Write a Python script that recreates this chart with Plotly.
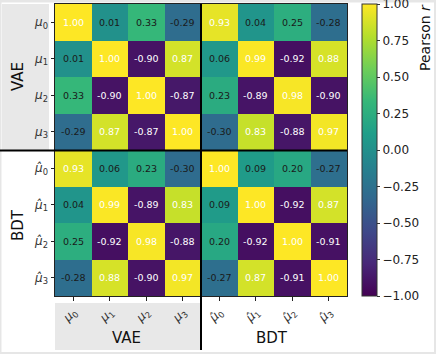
import plotly.graph_objects as go

# ---- data -------------------------------------------------------------
labels = [
    "<i>μ</i><sub>0</sub>", "<i>μ</i><sub>1</sub>",
    "<i>μ</i><sub>2</sub>", "<i>μ</i><sub>3</sub>",
    "<i>μ̂</i><sub>0</sub>", "<i>μ̂</i><sub>1</sub>",
    "<i>μ̂</i><sub>2</sub>", "<i>μ̂</i><sub>3</sub>",
]
corr = [
    [1.00, 0.01, 0.33, -0.29, 0.93, 0.04, 0.25, -0.28],
    [0.01, 1.00, -0.90, 0.87, 0.06, 0.99, -0.92, 0.88],
    [0.33, -0.90, 1.00, -0.87, 0.23, -0.89, 0.98, -0.90],
    [-0.29, 0.87, -0.87, 1.00, -0.30, 0.83, -0.88, 0.97],
    [0.93, 0.06, 0.23, -0.30, 1.00, 0.09, 0.20, -0.27],
    [0.04, 0.99, -0.89, 0.83, 0.09, 1.00, -0.92, 0.87],
    [0.25, -0.92, 0.98, -0.88, 0.20, -0.92, 1.00, -0.91],
    [-0.28, 0.88, -0.90, 0.97, -0.27, 0.87, -0.91, 1.00],
]
cbar_ticks = [-1.0, -0.75, -0.5, -0.25, 0.0, 0.25, 0.5, 0.75, 1.0]

# ---- geometry (pixels of the 436x354 page) -----------------------------
W, H = 436, 354
def px(x):
    return x / W
def py(y):
    return 1 - y / H

FONT = "DejaVu Sans"
PANEL = "#e8e8e8"

idx = list(range(len(labels)))

fig = go.Figure()
fig.add_trace(go.Heatmap(
    z=corr, x=idx, y=idx,
    colorscale="Viridis", zmin=-1, zmax=1,
    hoverinfo="skip",
    colorbar=dict(
        x=px(362), xanchor="left", xpad=0, ypad=0,
        y=py(150), yanchor="middle",
        lenmode="pixels", len=292, thickness=15,
        outlinewidth=1, outlinecolor="#333333",
        tickmode="array", tickvals=cbar_ticks,
        ticktext=[f"{t:.2f}".replace("-", "\u2212") for t in cbar_ticks],
        ticks="outside", ticklen=3, tickcolor="#333333",
        ticklabeloverflow="allow",
        tickfont=dict(family=FONT, size=12, color="#222222"),
    ),
))

# cell values
annotations = []
for i, row in enumerate(corr):
    for j, v in enumerate(row):
        annotations.append(dict(
            x=j, y=i, xref="x", yref="y", showarrow=False,
            text=f"{v:.2f}",
            font=dict(family=FONT, size=9.5,
                      color="white" if abs(v) > 0.5 else "#1a1a1a"),
        ))

# group labels
for text, x, y, ang in [
    ("VAE", 18, 77, -90), ("BDT", 18, 225, -90),
    ("VAE", 127, 338, 0), ("BDT", 272, 338, 0),
]:
    annotations.append(dict(
        x=px(x), y=py(y), xref="paper", yref="paper", showarrow=False,
        text=text, textangle=ang, xanchor="center", yanchor="middle",
        font=dict(family=FONT, size=15, color="#111111"),
    ))

annotations.append(dict(
    x=px(425), y=py(38), xref="paper", yref="paper", showarrow=False,
    text="Pearson <i>r</i>", textangle=-90, xanchor="center", yanchor="middle",
    font=dict(family=FONT, size=14, color="#111111"),
))

shapes = [
    # white page inside thin grey frame
    dict(type="rect", xref="paper", yref="paper", layer="below",
         x0=px(1.5), x1=px(434), y0=py(352), y1=py(2.5),
         fillcolor="white", line=dict(width=0)),
    # grey label panels
    dict(type="rect", xref="paper", yref="paper", layer="below",
         x0=px(2), x1=px(49), y0=py(150), y1=py(4),
         fillcolor=PANEL, line=dict(width=0)),
    dict(type="rect", xref="paper", yref="paper", layer="below",
         x0=px(55), x1=px(200), y0=py(350), y1=py(303),
         fillcolor=PANEL, line=dict(width=0)),
    # separators between VAE and BDT blocks
    dict(type="line", xref="paper", yref="paper",
         x0=px(0), x1=px(347), y0=py(150.5), y1=py(150.5),
         line=dict(color="black", width=2)),
    dict(type="line", xref="paper", yref="paper",
         x0=px(201), x1=px(201), y0=py(4), y1=py(350),
         line=dict(color="black", width=2)),
]

axis_common = dict(
    tickvals=idx, ticktext=labels,
    ticks="outside", ticklen=3.5, tickcolor="#222222",
    showline=True, mirror=True, linecolor="#222222", linewidth=1,
    showgrid=False, zeroline=False,
    tickfont=dict(family=FONT, size=12, color="#333333"),
)

fig.update_layout(
    width=W, height=H,
    margin=dict(l=0, r=0, t=0, b=0, autoexpand=False),
    paper_bgcolor="#e6e6e6",
    plot_bgcolor="white",
    xaxis=dict(domain=[px(55), px(347)], tickangle=-45,
               range=[-0.5, 7.5], **axis_common),
    yaxis=dict(domain=[py(296), py(4)], range=[7.5, -0.5], **axis_common),
    annotations=annotations,
    shapes=shapes,
    showlegend=False,
)

# the page body has a default 8px margin; drop it so the figure fills the window
fig.write_html("out.html", config={"displayModeBar": False},
               post_script="document.body.style.margin='0';document.body.style.overflow='hidden';")
